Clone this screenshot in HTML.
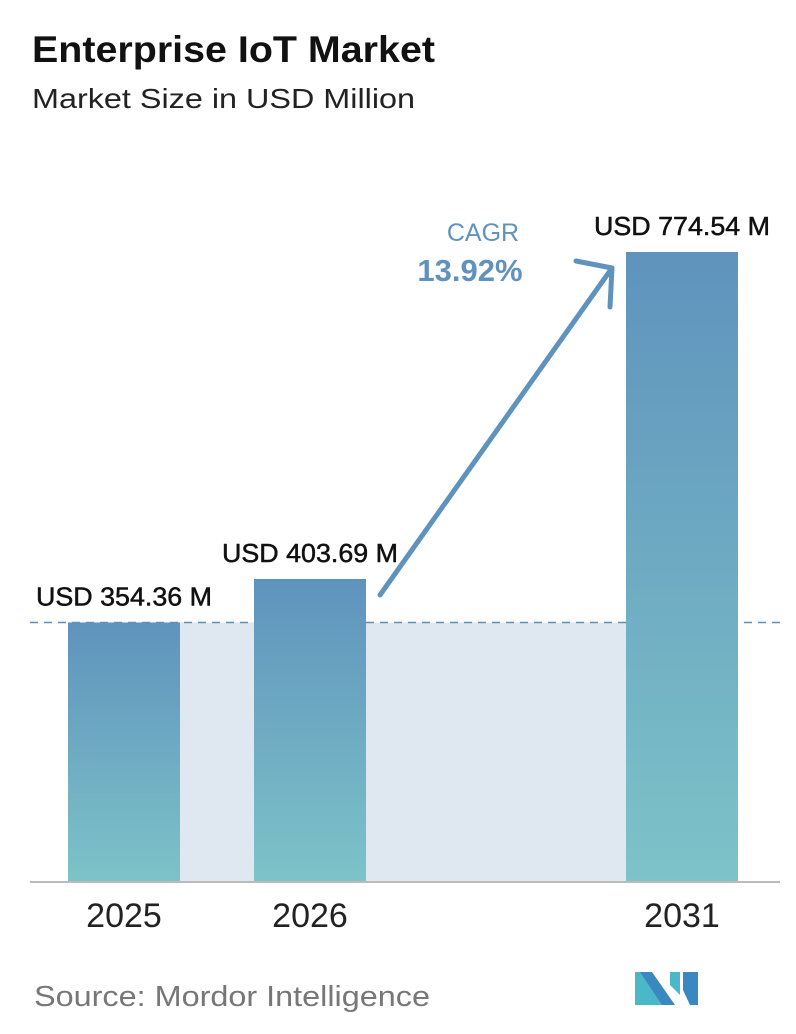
<!DOCTYPE html>
<html><head><meta charset="utf-8">
<style>
body{margin:0;width:796px;height:1034px;background:#fff;overflow:hidden;font-family:"Liberation Sans","DejaVu Sans",sans-serif}
svg{position:absolute;left:0;top:0}
</style></head>
<body>
<svg id="chart" width="796" height="1034">
<defs>
<linearGradient id="barGrad" x1="0" y1="0" x2="0" y2="1">
<stop offset="0" stop-color="#5f93bd"/><stop offset="1" stop-color="#7dc3c8"/>
</linearGradient>
</defs>
<text x="32" y="62" font-size="37" font-weight="bold" fill="#111" textLength="403" lengthAdjust="spacingAndGlyphs">Enterprise IoT Market</text>
<text x="32" y="108" font-size="28" fill="#222" textLength="383" lengthAdjust="spacingAndGlyphs">Market Size in USD Million</text>
<g id="marks"></g>
<g>
<text x="483" y="241" font-size="25" fill="#5f93bd" text-anchor="middle">CAGR</text>
<text x="470" y="281" font-size="31" font-weight="bold" fill="#5f93bd" text-anchor="middle">13.92%</text>
<path d="M380 595 L612 268 M576 261 L612 268 L610 307" stroke="#5f93bd" stroke-width="5" fill="none" stroke-linecap="round" stroke-linejoin="round"/>
</g>
<text x="34" y="1006" font-size="29" fill="#777" textLength="396" lengthAdjust="spacingAndGlyphs">Source:  Mordor Intelligence</text>
<g>
<polygon points="635,972 648,972 670,1005 657,1005 635,1005" fill="#4ab8c8"/>
<polygon points="640,972 652,972 675,1005 662,1005" fill="#3a88c0"/>
<polygon points="670,972 680,972 680,995 670,985" fill="#4ab8c8"/>
<polygon points="683,972 698,972 698,1005 690,1005 683,990" fill="#3a88c0"/>
</g>
</svg>
<script>
const categories=["2025","2026","2031"];
const values=[354.36,403.69,774.54];
const valueLabels=["USD 354.36 M","USD 403.69 M","USD 774.54 M"];
const baseY=882, x0=[68,254,626], bw=112;
const yMin=60, yMax=774.54;
function y(v){return baseY-(v-yMin)/(yMax-yMin)*630;}
const g=document.getElementById('marks');
const ns='http://www.w3.org/2000/svg';
function mk(t,a){const e=document.createElementNS(ns,t);for(const k in a)e.setAttribute(k,a[k]);g.appendChild(e);return e;}
const refY=y(values[0]);
const band=mk('rect',{x:x0[0],y:refY,width:x0[2]-x0[0],height:baseY-refY,fill:'#dfe8f1'});


const dl=mk('line',{x1:30,x2:780,y1:refY,y2:refY,stroke:'#5f8fb5','stroke-width':1.5,'stroke-dasharray':'8,6'});


categories.forEach((c,i)=>{
 const top=y(values[i]);
 const r=mk('rect',{x:x0[i],y:top,width:bw,height:baseY-top,fill:'url(#barGrad)'});
 
 
 const t=mk('text',{x:x0[i]+bw/2,y:top-17,'font-size':26,fill:'#111','text-anchor':'middle',textLength:176,lengthAdjust:'spacingAndGlyphs','stroke':'#111','stroke-width':0.5});
 t.textContent=valueLabels[i];
 
 
 const xl=mk('text',{x:x0[i]+bw/2,y:927,'font-size':34,fill:'#222','text-anchor':'middle'});
 xl.textContent=c;
 
 
});
const ax=mk('line',{x1:30,x2:780,y1:baseY,y2:baseY,stroke:'#bbb','stroke-width':2});


</script>
</body></html>
